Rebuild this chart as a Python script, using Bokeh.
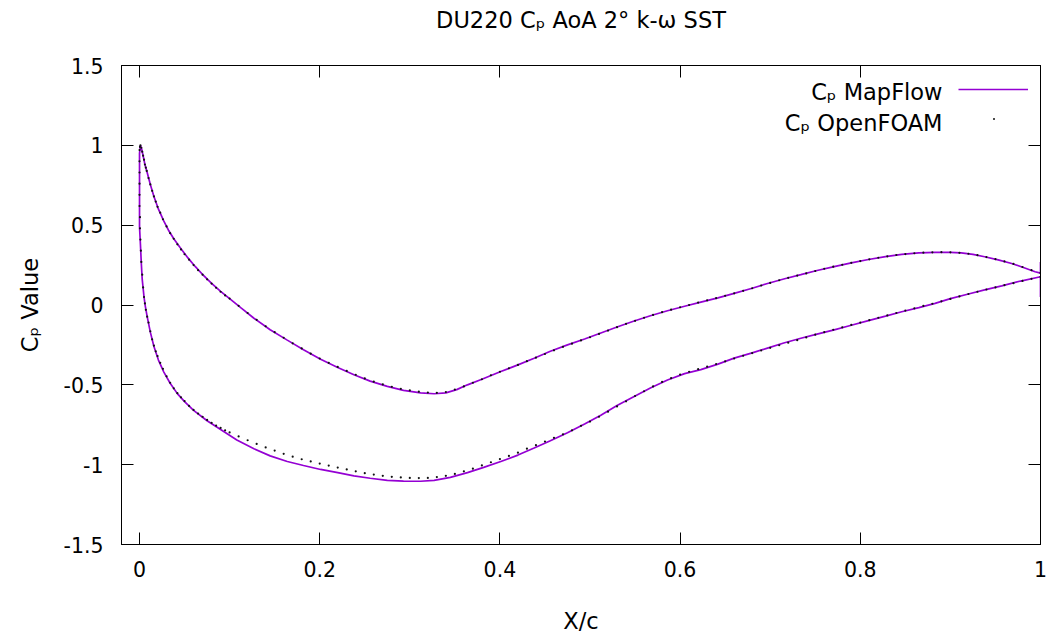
from bokeh.plotting import figure
from bokeh.models import (Range1d, FixedTicker, LinearAxis, Label, Legend, LegendItem,
                          ColumnDataSource)
from bokeh.embed import file_html
from bokeh.resources import INLINE

# ---------------- data ----------------
title_text = "DU220 C\u209a AoA 2\u00b0 k-\u03c9 SST"
x_label = "X/c"
y_label = "C\u209a Value"
series_names = ["C\u209a MapFlow", "C\u209a OpenFOAM"]

x_ticks = [0, 0.2, 0.4, 0.6, 0.8, 1]
x_tick_labels = ["0", "0.2", "0.4", "0.6", "0.8", "1"]
y_ticks = [-1.5, -1, -0.5, 0, 0.5, 1, 1.5]
y_tick_labels = ["-1.5", "-1", "-0.5", "0", "0.5", "1", "1.5"]

# MapFlow, upper curve in the picture (TE -> LE)
mf_upper_x = [1.0, 1.0, 0.994, 0.981, 0.968, 0.953, 0.938, 0.925, 0.912, 0.9, 0.883, 0.865,
              0.846, 0.828, 0.809, 0.79, 0.771, 0.752, 0.734, 0.715, 0.697, 0.68, 0.66,
              0.642, 0.623, 0.605, 0.586, 0.567, 0.549, 0.53, 0.512, 0.494, 0.475, 0.456,
              0.438, 0.42, 0.401, 0.38, 0.364, 0.352, 0.34, 0.327, 0.312, 0.293, 0.275,
              0.256, 0.238, 0.22, 0.201, 0.182, 0.164, 0.145, 0.127, 0.113, 0.1, 0.09,
              0.08, 0.071, 0.062, 0.053, 0.045, 0.038, 0.032, 0.027, 0.021, 0.016, 0.012,
              0.0085, 0.006, 0.004, 0.002, 0.001]
mf_upper_y = [0.27, 0.20, 0.208, 0.235, 0.26, 0.283, 0.302, 0.317, 0.327, 0.33, 0.33, 0.326,
              0.317, 0.303, 0.285, 0.264, 0.24, 0.216, 0.19, 0.163, 0.135, 0.105, 0.073,
              0.045, 0.018, -0.008, -0.036, -0.067, -0.10, -0.138, -0.175, -0.213, -0.25,
              -0.29, -0.333, -0.375, -0.417, -0.465, -0.50, -0.53, -0.55, -0.556, -0.55,
              -0.535, -0.51, -0.477, -0.437, -0.392, -0.34, -0.28, -0.22, -0.155, -0.083,
              -0.02, 0.04, 0.085, 0.135, 0.185, 0.24, 0.30, 0.36, 0.415, 0.47, 0.525, 0.60,
              0.68, 0.755, 0.83, 0.88, 0.935, 0.985, 1.0]

# MapFlow, lower curve in the picture (LE -> TE)
mf_lower_x = [0.0, 0.0, 0.0, 0.0, 0.001, 0.002, 0.003, 0.005, 0.0065, 0.0085, 0.012, 0.016,
              0.021, 0.027, 0.034, 0.042, 0.05, 0.06, 0.075, 0.09, 0.108, 0.127, 0.145,
              0.164, 0.182, 0.201, 0.22, 0.238, 0.256, 0.275, 0.293, 0.312, 0.327, 0.345,
              0.364, 0.382, 0.401, 0.42, 0.438, 0.456, 0.475, 0.494, 0.512, 0.53, 0.549,
              0.567, 0.586, 0.605, 0.623, 0.642, 0.66, 0.68, 0.697, 0.715, 0.734, 0.752,
              0.771, 0.79, 0.809, 0.828, 0.846, 0.865, 0.883, 0.9, 0.92, 0.938, 0.957,
              0.978, 1.0, 1.0]
mf_lower_y = [0.95, 0.89, 0.70, 0.49, 0.38, 0.26, 0.16, 0.05, -0.01, -0.073, -0.17, -0.26,
              -0.345, -0.42, -0.49, -0.555, -0.605, -0.66, -0.725, -0.78, -0.845, -0.90,
              -0.945, -0.98, -1.005, -1.03, -1.05, -1.07, -1.085, -1.098, -1.103, -1.104,
              -1.098, -1.08, -1.05, -1.017, -0.98, -0.94, -0.896, -0.85, -0.80, -0.745,
              -0.69, -0.63, -0.573, -0.52, -0.47, -0.43, -0.405, -0.37, -0.333, -0.30,
              -0.27, -0.238, -0.208, -0.182, -0.156, -0.127, -0.098, -0.07, -0.042,
              -0.016, 0.01, 0.04, 0.069, 0.095, 0.12, 0.15, 0.177, 0.05]

# OpenFOAM, upper curve in the picture
of_upper_x = [0.0005, 0.001, 0.002, 0.003, 0.004, 0.005, 0.006, 0.007, 0.008, 0.01, 0.012,
              0.014, 0.016, 0.018, 0.02, 0.023, 0.026, 0.03, 0.034, 0.038, 0.042, 0.046,
              0.05, 0.055, 0.06, 0.065, 0.07, 0.075, 0.08, 0.085, 0.09, 0.095,
              0.10, 0.11, 0.12, 0.13, 0.14, 0.15, 0.16, 0.17, 0.18, 0.19, 0.20, 0.21, 0.22,
              0.23, 0.24, 0.25, 0.26, 0.27, 0.28, 0.29, 0.30, 0.31, 0.32, 0.33, 0.34, 0.35,
              0.36, 0.37, 0.38, 0.39, 0.40, 0.41, 0.42, 0.43, 0.44, 0.45, 0.46, 0.47, 0.48,
              0.49, 0.50, 0.51, 0.52, 0.53, 0.54, 0.55, 0.56, 0.57, 0.58, 0.59, 0.60, 0.61,
              0.62, 0.63, 0.64, 0.65, 0.66, 0.67, 0.68, 0.69, 0.70, 0.71, 0.72, 0.73, 0.74,
              0.75, 0.76, 0.77, 0.78, 0.79, 0.80, 0.81, 0.82, 0.83, 0.84, 0.85, 0.86, 0.87,
              0.88, 0.89, 0.90, 0.91, 0.92, 0.93, 0.94, 0.95, 0.96, 0.97, 0.98, 0.99, 1.0]
of_upper_y = [0.99, 1.0, 0.985, 0.96, 0.935, 0.91, 0.88, 0.86, 0.84, 0.795, 0.755,
              0.715, 0.68, 0.648, 0.615, 0.578, 0.537, 0.492, 0.45, 0.415, 0.38, 0.348,
              0.318, 0.284, 0.25, 0.218, 0.19, 0.161, 0.134, 0.108, 0.083, 0.06,
              0.04, -0.005, -0.05, -0.093, -0.133, -0.17, -0.205, -0.24, -0.272, -0.305,
              -0.335, -0.362, -0.388, -0.413, -0.437, -0.46, -0.48, -0.497, -0.512, -0.525,
              -0.535, -0.543, -0.548, -0.55, -0.545, -0.53, -0.51, -0.487, -0.465, -0.44,
              -0.418, -0.396, -0.375, -0.352, -0.33, -0.307, -0.284, -0.262, -0.242, -0.222,
              -0.202, -0.181, -0.16, -0.139, -0.118, -0.099, -0.08, -0.062, -0.045, -0.029,
              -0.014, 0.0, 0.015, 0.029, 0.043, 0.058, 0.073, 0.089, 0.105, 0.122, 0.138,
              0.155, 0.17, 0.184, 0.198, 0.213, 0.227, 0.24, 0.252, 0.264, 0.275, 0.286,
              0.296, 0.305, 0.313, 0.319, 0.324, 0.328, 0.33, 0.331, 0.33, 0.327, 0.321,
              0.312, 0.30, 0.287, 0.273, 0.257, 0.238, 0.218, 0.20]

# OpenFOAM, lower curve in the picture
of_lower_x = [0.0, 0.0, 0.0, 0.0, 0.0, 0.0, 0.0005, 0.0005, 0.001, 0.0015, 0.002, 0.003,
              0.004, 0.005, 0.006, 0.007, 0.0085, 0.01, 0.012, 0.014, 0.016, 0.018, 0.02,
              0.023, 0.026, 0.03, 0.034, 0.038, 0.042, 0.046, 0.05, 0.055, 0.06, 0.065,
              0.07, 0.075, 0.08, 0.085, 0.09, 0.095,
              0.10, 0.11, 0.12, 0.13, 0.14, 0.15, 0.16, 0.17, 0.18, 0.19, 0.20, 0.21, 0.22,
              0.23, 0.24, 0.25, 0.26, 0.27, 0.28, 0.29, 0.30, 0.31, 0.32, 0.33, 0.34, 0.35,
              0.36, 0.37, 0.38, 0.39, 0.40, 0.41, 0.42, 0.43, 0.44, 0.45, 0.46, 0.47, 0.48,
              0.49, 0.50, 0.51, 0.52, 0.53, 0.54, 0.55, 0.56, 0.57, 0.58, 0.59, 0.60, 0.61,
              0.62, 0.63, 0.64, 0.65, 0.66, 0.67, 0.68, 0.69, 0.70, 0.71, 0.72, 0.73, 0.74,
              0.75, 0.76, 0.77, 0.78, 0.79, 0.80, 0.81, 0.82, 0.83, 0.84, 0.85, 0.86, 0.87,
              0.88, 0.89, 0.90, 0.91, 0.92, 0.93, 0.94, 0.95, 0.96, 0.97, 0.98, 0.99, 1.0]
of_lower_y = [0.97, 0.90, 0.83, 0.76, 0.69, 0.62, 0.55, 0.48, 0.41, 0.34, 0.27, 0.19,
              0.11, 0.05, 0.01, -0.03, -0.073, -0.11, -0.165, -0.215, -0.255, -0.29, -0.32,
              -0.362, -0.4, -0.447, -0.487, -0.522, -0.552, -0.578, -0.602, -0.632, -0.657,
              -0.68, -0.7, -0.72, -0.738, -0.755, -0.77, -0.785,
              -0.798, -0.823, -0.847, -0.87, -0.892, -0.912, -0.932, -0.95, -0.966, -0.98,
              -0.993, -1.006, -1.018, -1.03, -1.042, -1.053, -1.062, -1.07, -1.076, -1.08,
              -1.083, -1.084, -1.083, -1.078, -1.07, -1.058, -1.042, -1.025, -1.005, -0.985,
              -0.965, -0.945, -0.925, -0.90, -0.878, -0.855, -0.832, -0.81, -0.785, -0.757,
              -0.73, -0.70, -0.668, -0.635, -0.603, -0.57, -0.54, -0.51, -0.482, -0.458,
              -0.436, -0.418, -0.402, -0.386, -0.37, -0.353, -0.335, -0.318, -0.301, -0.285,
              -0.268, -0.252, -0.236, -0.22, -0.203, -0.186, -0.17, -0.155, -0.14, -0.125,
              -0.11, -0.095, -0.08, -0.065, -0.05, -0.035, -0.021, -0.006, 0.008, 0.023,
              0.038, 0.054, 0.069, 0.083, 0.097, 0.11, 0.124, 0.137, 0.151, 0.164, 0.177]

# ---------------- figure ----------------
FONT = "DejaVu Sans"
TICK_FS = "20.5px"
TEXT_FS = "22.5px"
LINE_COLOR = "#9400D3"

p = figure(width=1049, height=636, output_backend="svg", toolbar_location=None,
           x_range=Range1d(-0.02, 1.0), y_range=Range1d(-1.5, 1.5),
           min_border_left=121, min_border_right=9, min_border_top=65, min_border_bottom=90,
           x_axis_type=None, y_axis_type=None)
p.background_fill_color = "white"
p.border_fill_color = "white"
p.outline_line_color = "black"
p.outline_line_width = 1
p.xgrid.visible = False
p.ygrid.visible = False


def style_axis(ax, show_labels):
    ax.axis_line_color = "black"
    ax.major_tick_line_color = "black"
    ax.major_tick_in = 12
    ax.major_tick_out = 0
    ax.minor_tick_line_color = None
    ax.major_label_text_font = FONT
    ax.axis_label_text_font = FONT
    ax.axis_label_text_font_style = "normal"
    ax.axis_label_text_color = "black"
    ax.axis_label_text_font_size = TEXT_FS
    if show_labels:
        ax.major_label_text_color = "black"
        ax.major_label_text_font_size = TICK_FS
    else:
        ax.major_label_text_color = None
        ax.major_label_text_font_size = "1px"
        ax.major_label_standoff = 0


xb = LinearAxis(ticker=FixedTicker(ticks=x_ticks),
                major_label_overrides=dict(zip(x_ticks, x_tick_labels)), axis_label=x_label)
style_axis(xb, True)
xb.major_label_standoff = 16
xb.axis_label_standoff = 28
p.add_layout(xb, "below")

yl = LinearAxis(ticker=FixedTicker(ticks=y_ticks),
                major_label_overrides=dict(zip(y_ticks, y_tick_labels)), axis_label=y_label)
style_axis(yl, True)
yl.major_label_standoff = 18
yl.axis_label_standoff = 18
p.add_layout(yl, "left")

# top axis: mirrored inward ticks, and it carries the chart title above the frame
xt = LinearAxis(ticker=FixedTicker(ticks=x_ticks), axis_label=title_text)
style_axis(xt, False)
xt.axis_label_standoff = 33
p.add_layout(xt, "above")

yr = LinearAxis(ticker=FixedTicker(ticks=y_ticks))
style_axis(yr, False)
p.add_layout(yr, "right")

# ---------------- data marks ----------------
mf_src = ColumnDataSource(dict(x=mf_upper_x + mf_lower_x, y=mf_upper_y + mf_lower_y))
of_src = ColumnDataSource(dict(x=of_upper_x + of_lower_x, y=of_upper_y + of_lower_y))

r_line = p.line("x", "y", source=mf_src, line_color=LINE_COLOR, line_width=1.7)
r_dots = p.scatter("x", "y", source=of_src, marker="circle", size=2.2,
                   fill_color="#111111", line_color=None)

# ---------------- legend (gnuplot style: text left, sample right) ----------------
leg_line = Legend(items=[LegendItem(label=" ", renderers=[r_line])],
                  location=(837, 440), orientation="vertical",
                  glyph_width=70, glyph_height=30, label_width=0, label_standoff=0,
                  label_text_font_size="1px", padding=0, spacing=0, margin=0,
                  border_line_color=None, background_fill_alpha=0)
p.add_layout(leg_line)
leg_dot = Legend(items=[LegendItem(label=" ", renderers=[r_dots])],
                 location=(870, 423), orientation="vertical",
                 glyph_width=5, glyph_height=5, label_width=0, label_standoff=0,
                 label_text_font_size="1px", padding=0, spacing=0, margin=0,
                 border_line_color=None, background_fill_alpha=0)
p.add_layout(leg_dot)

for i, name in enumerate(series_names):
    p.add_layout(Label(x=821, y=453 - 31 * i, x_units="screen", y_units="screen",
                       text=name, text_align="right", text_baseline="middle",
                       text_font=FONT, text_font_size=TEXT_FS, text_color="black"))

open("out.html", "w").write(file_html(p, INLINE))
